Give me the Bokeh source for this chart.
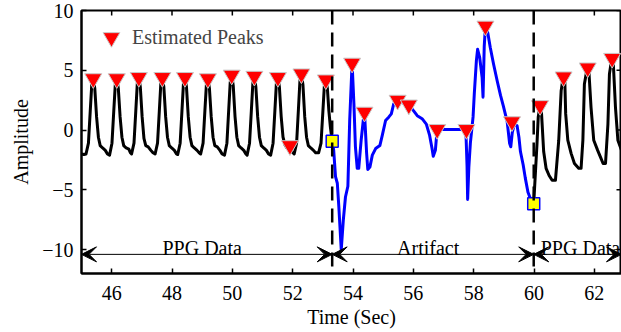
import math
from bokeh.plotting import figure
from bokeh.models import (Range1d, FixedTicker, Span, Arrow, VeeHead,
                          ColumnDataSource, Legend, LegendItem)
from bokeh.embed import file_html
from bokeh.resources import INLINE
from bokeh.core.properties import value

FONT = "Liberation Serif"

# ---- PPG signal before the artifact (black) ----
ppg1_t = [45.00, 45.08, 45.15, 45.23, 45.29, 45.34, 45.39, 45.44, 45.50, 45.56, 45.62, 45.70, 45.79, 45.86,
          45.93, 46.01, 46.07, 46.12, 46.17, 46.22, 46.28, 46.34, 46.40, 46.48, 46.57, 46.62,
          46.66, 46.74, 46.80, 46.85, 46.90, 46.95, 47.01, 47.07, 47.13, 47.21, 47.30, 47.37,
          47.44, 47.52, 47.58, 47.63, 47.68, 47.73, 47.79, 47.85, 47.91, 47.99, 48.08, 48.15,
          48.19, 48.27, 48.33, 48.38, 48.43, 48.48, 48.54, 48.60, 48.66, 48.74, 48.83, 48.90,
          48.95, 49.03, 49.09, 49.14, 49.19, 49.24, 49.30, 49.36, 49.42, 49.50, 49.59, 49.66,
          49.74, 49.82, 49.88, 49.93, 49.98, 50.03, 50.09, 50.15, 50.21, 50.29, 50.38, 50.45,
          50.49, 50.57, 50.63, 50.68, 50.73, 50.78, 50.84, 50.90, 50.96, 51.04, 51.13, 51.20,
          51.27, 51.35, 51.41, 51.46, 51.51, 51.56, 51.62, 51.68, 51.74, 51.81, 51.86, 51.91, 51.97,
          52.05, 52.13, 52.19, 52.24, 52.29, 52.34, 52.40, 52.46, 52.52, 52.60, 52.69, 52.76,
          52.86, 52.94, 53.00, 53.05, 53.10, 53.15, 53.20, 53.25, 53.31]
ppg1_y = [-2.0, -2.05, -2.0, -1.1, 1.6, 3.8, 4.3, 3.5, 1.1, -0.6, -1.3, -1.5, -1.7, -2.0,
          -2.1, -1.1, 1.6, 3.8, 4.3, 3.5, 1.1, -0.6, -1.3, -1.5, -1.6, -1.9,
          -2.0, -1.1, 1.6, 3.9, 4.4, 3.6, 1.1, -0.7, -1.3, -1.4, -1.7, -1.9,
          -2.0, -1.1, 1.6, 3.9, 4.4, 3.6, 1.1, -0.6, -1.3, -1.5, -1.7, -2.0,
          -2.05, -1.1, 1.6, 3.9, 4.4, 3.6, 1.1, -0.6, -1.3, -1.5, -1.7, -1.9,
          -2.0, -1.1, 1.6, 3.8, 4.3, 3.5, 1.1, -0.6, -1.3, -1.4, -1.7, -2.0,
          -2.1, -1.1, 1.7, 4.0, 4.6, 3.7, 1.1, -0.6, -1.3, -1.5, -1.7, -2.0,
          -2.1, -1.1, 1.6, 3.9, 4.5, 3.6, 1.1, -0.6, -1.3, -1.5, -1.7, -2.0,
          -2.1, -1.1, 1.6, 3.9, 4.4, 3.6, 1.1, -0.6, -1.2, -1.5, -1.5, -1.3, -1.8,
          -2.0, -1.1, 1.7, 4.1, 4.7, 3.8, 1.1, -0.6, -1.3, -1.5, -1.7, -1.9,
          -1.9, -1.1, 1.5, 3.7, 4.2, 3.5, 1.6, 0.25, -0.94]

# ---- Artifact segment (blue) ----
art_t = [53.31, 53.36, 53.42, 53.48, 53.53, 53.61, 53.68, 53.75, 53.83, 53.89, 53.97, 54.03, 54.08,
         54.14, 54.19, 54.27, 54.34, 54.38, 54.45, 54.49, 54.56, 54.64, 54.75, 54.89, 54.97, 55.08,
         55.19, 55.27, 55.35, 55.48, 55.63, 55.85, 56.01, 56.13, 56.29, 56.43, 56.54, 56.62, 56.66,
         56.73, 56.76, 56.79, 57.74, 57.78, 57.80, 57.84, 57.89, 57.98, 58.02, 58.09, 58.13, 58.20,
         58.28, 58.31, 58.35, 58.39, 58.47, 58.55, 58.66, 58.78, 58.89, 58.98, 59.11, 59.19, 59.23,
         59.28, 59.35, 59.44, 59.50, 59.55, 59.64, 59.71, 59.80, 59.92, 59.99]
art_y = [-0.94, -1.7, -3.9, -4.45, -6.4, -10.0, -7.5, -5.6, -4.7, 0.8, 5.6, 2.2, -1.4,
         -3.2, -3.2, -0.85, 0.8, 1.5, -1.9, -3.3, -3.1, -2.1, -1.55, -1.3, -0.45, 0.8,
         1.1, 1.35, 2.2, 2.5, 2.3, 2.1, 1.6, 1.2, 0.95, 0.5, -0.45, -1.55, -2.2,
         -1.7, -0.8, 0.05, 0.05, -3.0, -5.8, -3.1, -1.1, 1.1, 3.0, 5.8, 6.75, 6.05,
         4.4, 2.75, 7.0, 8.7, 8.1, 6.9, 5.5, 4.1, 2.9, 2.05, 0.7, -1.1, -1.4,
         -0.2, 0.5, 0.35, -0.6, -1.8, -2.9, -4.0, -5.2, -6.0, -6.17]

# ---- PPG signal after the artifact (black) ----
ppg2_t = [59.99, 60.10, 60.14, 60.20, 60.25, 60.32, 60.40, 60.50, 60.60, 60.71, 60.82, 60.90, 60.97,
          61.02, 61.05, 61.12, 61.23, 61.34, 61.48, 61.56, 61.62, 61.67, 61.77, 61.82, 61.89, 61.98,
          62.11, 62.20, 62.29, 62.37, 62.45, 62.50, 62.58, 62.63, 62.70, 62.78, 62.90]
ppg2_y = [-6.17, -1.1, 1.1, 2.05, 1.35, -1.8, -3.2, -3.8, -4.2, -4.2, -0.85, 3.3, 4.5,
          4.2, 1.35, -0.85, -1.95, -2.8, -3.2, -3.2, -0.85, 3.85, 5.3, 4.9, 1.9, -0.85,
          -1.7, -2.25, -2.8, -2.8, 0.5, 4.7, 6.0, 5.5, 1.9, -0.85, -1.7]

# ---- Estimated peaks ----
peak_t = [45.39, 46.17, 46.90, 47.68, 48.43, 49.19, 49.98, 50.73, 51.51, 51.91, 52.29, 53.10,
          53.97, 54.38, 55.48, 55.85, 56.79, 57.76, 58.39, 59.27, 60.20, 60.98, 61.78, 62.59]
peak_v = [4.3, 4.3, 4.4, 4.4, 4.4, 4.3, 4.6, 4.5, 4.4, -1.3, 4.7, 4.2,
          5.6, 1.5, 2.5, 2.1, 0.05, 0.05, 8.7, 0.7, 2.05, 4.45, 5.2, 6.0]

# ---- Artifact boundaries ----
bound_t = [53.31, 59.99]
bound_v = [-0.94, -6.17]

# ---- Segment annotations ----
seg_start = [45.0, 53.31, 59.99]
seg_end = [53.31, 59.99, 62.9]
seg_names = ["PPG Data", "Artifact", "PPG Data"]
seg_label_t = [49.0, 56.49, 61.54]
arrow_y = -10.4
label_y = -9.9

x_lim = (45, 62.9)
y_lim = (-12, 10)
x_ticks = [46, 48, 50, 52, 54, 56, 58, 60, 62]
y_ticks = [-10, -5, 0, 5, 10]
y_tick_labels = ["\u221210", "\u22125", "0", "5", "10"]

p = figure(width=621, height=332, output_backend="svg", toolbar_location=None,
           x_range=Range1d(*x_lim), y_range=Range1d(*y_lim),
           min_border_left=81, min_border_right=0, min_border_top=10, min_border_bottom=59)
p.outline_line_color = "black"
p.outline_line_width = 2
p.grid.visible = False
p.background_fill_color = "white"
p.border_fill_color = "white"


def style_axis(ax):
    ax.axis_line_width = 2
    ax.axis_line_color = "black"
    ax.major_tick_in = 5
    ax.major_tick_out = 0
    ax.major_tick_line_width = 1.5
    ax.major_tick_line_color = "black"
    ax.minor_tick_line_color = None
    ax.major_label_text_font = FONT
    ax.major_label_text_font_size = "20px"
    ax.major_label_text_color = "black"
    ax.axis_label_text_font = FONT
    ax.axis_label_text_font_size = "20px"
    ax.axis_label_text_font_style = "normal"
    ax.axis_label_text_color = "black"


xa = p.xaxis[0]
xa.ticker = FixedTicker(ticks=x_ticks)
style_axis(xa)
xa.major_label_standoff = 12
xa.axis_label = "Time (Sec)"
xa.axis_label_standoff = 3

ya = p.yaxis[0]
ya.ticker = FixedTicker(ticks=y_ticks)
style_axis(ya)
ya.major_label_overrides = {t: s for t, s in zip(y_ticks, y_tick_labels)}
ya.major_label_standoff = 8
ya.axis_label = "Amplitude"
ya.axis_label_standoff = 7

# inward ticks on the top and right edges of the box (half of each dash is clipped by the frame)
p.scatter(x_ticks, [y_lim[1]] * len(x_ticks), marker="dash", size=10, angle=math.pi / 2,
          line_color="black", line_width=1.5)
p.scatter([x_lim[1]] * len(y_ticks), y_ticks, marker="dash", size=10,
          line_color="black", line_width=1.5)

# signals
p.line(ppg1_t, ppg1_y, line_color="black", line_width=3, line_join="round")
p.line(art_t, art_y, line_color="#0000FF", line_width=3, line_join="round")
p.line(ppg2_t, ppg2_y, line_color="black", line_width=3, line_join="round")

# boundaries (dashed)
for bt in bound_t:
    p.add_layout(Span(location=bt, dimension="height", line_color="black",
                      line_width=2.5, line_dash="14 8"))

# arrows
arr_src = ColumnDataSource(dict(x0=seg_start, x1=seg_end, y0=[arrow_y] * 3, y1=[arrow_y] * 3))
p.add_layout(Arrow(x_start="x0", y_start="y0", x_end="x1", y_end="y1", source=arr_src,
                   line_color="black", line_width=1,
                   start=VeeHead(size=15, fill_color="black", line_color="black", line_width=1),
                   end=VeeHead(size=15, fill_color="black", line_color="black", line_width=1)))
p.text(x=seg_label_t, y=[label_y] * 3, text=seg_names, text_font=value(FONT),
       text_font_size="20px", text_align="center", text_baseline="alphabetic", text_color="black")

# peaks
peaks_r = p.scatter(peak_t, peak_v, marker="inverted_triangle", size=17,
                    fill_color="#FF0000", line_color="#C8C8C8", line_width=1)

# boundary samples
p.scatter(bound_t, bound_v, marker="square", size=12, fill_color="#FFFF00",
          line_color="#0000FF", line_width=1.5)

legend = Legend(items=[LegendItem(label="Estimated Peaks", renderers=[peaks_r])],
                location=(9, 215), margin=0, padding=0, spacing=0,
                glyph_width=42, glyph_height=42, label_standoff=0, label_height=42,
                label_text_font=FONT, label_text_font_size="20px",
                border_line_color=None, background_fill_alpha=0)
p.add_layout(legend)

open("out.html", "w").write(file_html(p, INLINE))
